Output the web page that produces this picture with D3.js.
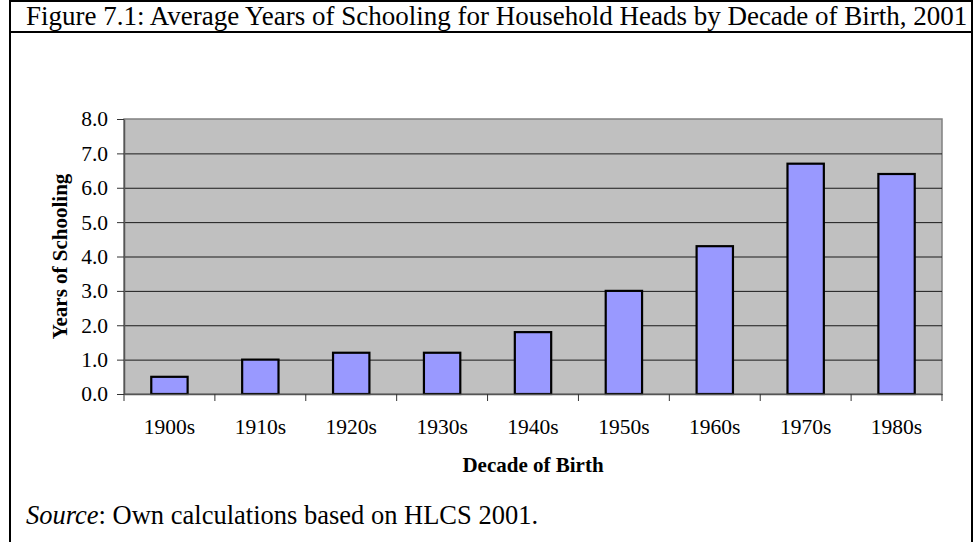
<!DOCTYPE html>
<meta charset="utf-8">
<style>
  body { margin: 0; background: #fff; }
  text { font-family: "Times New Roman", "Liberation Serif", serif; fill: #000; }
</style>
<svg width="974" height="542"></svg>
<script src="https://d3js.org/d3.v7.min.js"></script>
<script>

var decades = ["1900s", "1910s", "1920s", "1930s", "1940s", "1950s", "1960s", "1970s", "1980s"],
    schooling = [0.5, 1.0, 1.2, 1.2, 1.8, 3.0, 4.3, 6.7, 6.4],
    yTicks = [0, 1, 2, 3, 4, 5, 6, 7, 8];

var titleText = "Figure 7.1: Average Years of Schooling for Household Heads by Decade of Birth, 2001",
    yTitle = "Years of Schooling",
    xTitle = "Decade of Birth";

var svg = d3.select("svg"),
    width = +svg.attr("width"),
    height = +svg.attr("height");

var margin = {top: 119, right: 32, bottom: 148, left: 124},
    plotW = width - margin.left - margin.right,
    plotH = height - margin.top - margin.bottom;

// outer frame of the figure (open at the bottom)
svg.append("path")
    .attr("d", "M10," + (height + 5) + "V1H972V" + (height + 5))
    .attr("fill", "none")
    .attr("stroke", "#000")
    .attr("stroke-width", 2);

svg.append("line")
    .attr("x1", 10).attr("x2", 972)
    .attr("y1", 32).attr("y2", 32)
    .attr("stroke", "#000")
    .attr("stroke-width", 2);

svg.append("text")
    .attr("x", 26)
    .attr("y", 25)
    .attr("font-size", 27)
    .text(titleText);

var src = svg.append("text")
    .attr("x", 26)
    .attr("y", 524)
    .attr("font-size", 26.5);
src.append("tspan").attr("font-style", "italic").text("Source");
src.append("tspan").text(": Own calculations based on HLCS 2001.");

var g = svg.append("g").attr("transform", "translate(" + margin.left + "," + margin.top + ")");

var x = d3.scaleBand()
    .domain(decades)
    .range([0, plotW])
    .paddingInner(0.6)
    .paddingOuter(0.3);

var y = d3.scaleLinear()
    .domain([0, 8])
    .range([plotH, 0]);

g.append("rect")
    .attr("width", plotW)
    .attr("height", plotH)
    .attr("fill", "#c0c0c0")
    .attr("stroke", "#808080")
    .attr("stroke-width", 1.5);

g.append("g")
    .selectAll("line")
    .data(yTicks.filter(function(d) { return d > 0 && d < 8; }))
    .enter().append("line")
      .attr("x1", 0)
      .attr("x2", plotW)
      .attr("y1", function(d) { return y(d) + 0.5; })
      .attr("y2", function(d) { return y(d) + 0.5; })
      .attr("stroke", "#1a1a1a")
      .attr("stroke-width", 1);

g.append("g")
    .selectAll("rect")
    .data(schooling)
    .enter().append("rect")
      .attr("x", function(d, i) { return x(decades[i]); })
      .attr("y", function(d) { return y(d); })
      .attr("width", x.bandwidth())
      .attr("height", function(d) { return plotH - y(d); })
      .attr("fill", "#9999ff")
      .attr("stroke", "#000")
      .attr("stroke-width", 2.2);

// y axis
var yAxis = g.append("g")
    .call(d3.axisLeft(y).tickValues(yTicks).tickFormat(d3.format(".1f")).tickSize(7).tickSizeOuter(0));
yAxis.select(".domain").attr("stroke", "#555").attr("stroke-width", 1.5);
yAxis.selectAll(".tick line").attr("stroke", "#333");
yAxis.selectAll("text")
    .attr("x", -16)
    .attr("dy", "0.32em")
    .attr("font-family", null)
    .attr("font-size", 21.5);

// x axis: labels at band centres, ticks at band boundaries
var xAxis = g.append("g")
    .attr("transform", "translate(0," + plotH + ")")
    .call(d3.axisBottom(x).tickSize(0).tickSizeOuter(0));
xAxis.select(".domain").attr("stroke", "#555").attr("stroke-width", 1.5);
xAxis.selectAll("text")
    .attr("y", 40)
    .attr("dy", null)
    .attr("font-family", null)
    .attr("font-size", 21.5);

var edges = decades.map(function(d) { return x(d) + x.bandwidth() / 2 - x.step() / 2; }).concat([plotW]);
xAxis.selectAll(".edge")
    .data(edges)
    .enter().append("line")
      .attr("class", "edge")
      .attr("x1", function(d) { return d; })
      .attr("x2", function(d) { return d; })
      .attr("y1", 0)
      .attr("y2", 7)
      .attr("stroke", "#333");

g.append("text")
    .attr("transform", "translate(" + (67 - margin.left) + "," + plotH / 2 + ") rotate(-90)")
    .attr("text-anchor", "middle")
    .attr("font-weight", "bold")
    .attr("font-size", 21)
    .text(yTitle);

g.append("text")
    .attr("x", plotW / 2)
    .attr("y", plotH + 78)
    .attr("text-anchor", "middle")
    .attr("font-weight", "bold")
    .attr("font-size", 21)
    .text(xTitle);

</script>
